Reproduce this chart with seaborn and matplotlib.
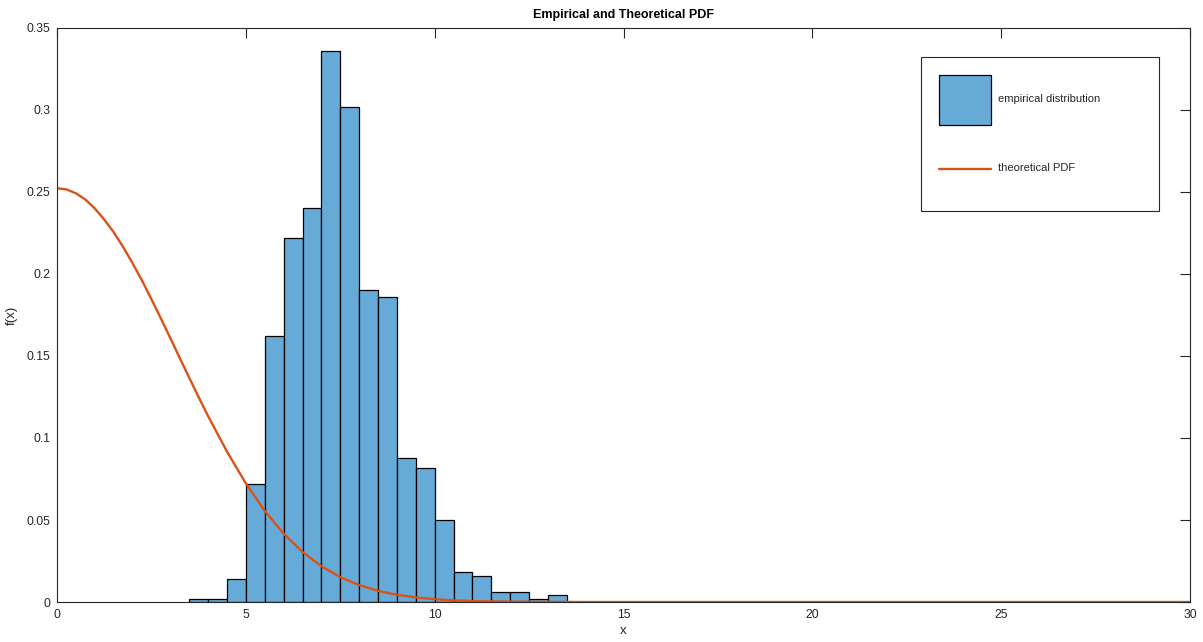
import numpy as np
import matplotlib
matplotlib.use("Agg")
import matplotlib.pyplot as plt
from matplotlib.lines import Line2D
from matplotlib.legend_handler import HandlerPatch
import seaborn as sns

# DATA ----------
# histogram bins (width 0.5) and density heights
bin_left = [3.5, 4.0, 4.5, 5.0, 5.5, 6.0, 6.5, 7.0, 7.5, 8.0,
            8.5, 9.0, 9.5, 10.0, 10.5, 11.0, 11.5, 12.0, 12.5, 13.0]
density = [0.002, 0.002, 0.014, 0.072, 0.162, 0.222, 0.240, 0.336, 0.302, 0.190,
           0.186, 0.088, 0.082, 0.050, 0.018, 0.016, 0.006, 0.006, 0.002, 0.004]
bin_width = 0.5

# theoretical pdf, points
pdf_x = [0, 0.25, 0.5, 0.75, 1, 1.25, 1.5, 1.75, 2, 2.25, 2.5, 2.75, 3, 3.25,
         3.5, 3.75, 4, 4.5, 5, 5.5, 6, 6.5, 7, 7.5, 8, 8.5, 9, 9.5, 10, 10.5,
         11, 12, 13, 14, 30]
pdf_y = [0.2523, 0.2516, 0.2492, 0.2454, 0.2400, 0.2332, 0.2255, 0.2165,
         0.2066, 0.1960, 0.1846, 0.1729, 0.1609, 0.1488, 0.1368, 0.1249,
         0.1134, 0.0917, 0.0723, 0.0556, 0.0417, 0.0305, 0.0218, 0.0152,
         0.0103, 0.0068, 0.0044, 0.0028, 0.0017, 0.0010, 0.0006, 0.0002,
         0.0001, 0.0, 0.0]

# STYLE ----------
sns.set_style("white")
plt.rcParams["font.family"] = ["Liberation Sans", "DejaVu Sans"]
axis_col = "#262626"

fig = plt.figure(figsize=(12.03, 6.42), dpi=100)
ax = fig.add_axes([0.0474, 0.0623, 0.9418, 0.8941])

# histogram
centers = [b + bin_width / 2 for b in bin_left]
edges = bin_left + [bin_left[-1] + bin_width]
sns.histplot(x=centers, weights=density, bins=edges, stat="count",
             color="#66AAD7", alpha=1.0, edgecolor="black", linewidth=0.9,
             label="empirical distribution", ax=ax)

# theoretical curve
sns.lineplot(x=pdf_x, y=pdf_y, color="#D95319", linewidth=1.7,
             label="theoretical PDF", ax=ax)

ax.set_xlim(0, 30)
ax.set_ylim(0, 0.35)
ax.set_xticks(np.arange(0, 31, 5))
ax.set_yticks(np.arange(0, 0.351, 0.05))
ax.set_yticklabels(["0", "0.05", "0.1", "0.15", "0.2", "0.25", "0.3", "0.35"])

ax.tick_params(direction="in", top=True, right=True, length=7, width=0.8,
               colors=axis_col, labelsize=8.7, pad=5)
for s in ax.spines.values():
    s.set_color(axis_col)
    s.set_linewidth(0.8)

ax.set_title("Empirical and Theoretical PDF", fontsize=9, fontweight="bold",
             color="black", pad=7)
ax.set_xlabel("x", fontsize=9.5, color=axis_col, labelpad=3)
ax.set_ylabel("f(x)", fontsize=9.5, color=axis_col, labelpad=6)


# line handle centred the same way as the big patch handle
def centered_line(legend, orig_handle, xdescent, ydescent, width, height, fontsize):
    cy = -ydescent + height / 2
    return Line2D([-xdescent, -xdescent + width], [cy, cy])


# legend: histogram first, like the original
handles, labels = ax.get_legend_handles_labels()
order = [labels.index("empirical distribution"), labels.index("theoretical PDF")]
line_handle = handles[labels.index("theoretical PDF")]
top = 1 - 57 / 642
leg = ax.legend([handles[i] for i in order], [labels[i] for i in order],
                loc="upper left", bbox_to_anchor=(921 / 1203, top - 0.3, 238 / 1203, 0.3),
                bbox_transform=fig.transFigure, mode="expand",
                handler_map={line_handle: HandlerPatch(patch_func=centered_line)},
                fontsize=8, handlelength=4.7, handleheight=6.5,
                labelspacing=1.71, borderpad=1.62, handletextpad=0.6,
                borderaxespad=0, fancybox=False, framealpha=1)
leg.get_frame().set_edgecolor(axis_col)
leg.get_frame().set_linewidth(0.8)

fig.savefig("out.png", dpi=100)
